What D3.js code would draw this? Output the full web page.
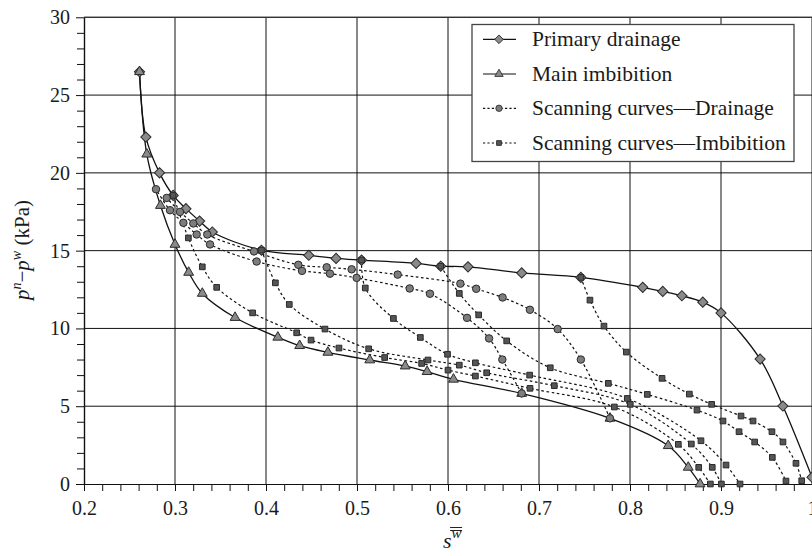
<!DOCTYPE html>
<html><head><meta charset="utf-8">
<script src="https://cdn.jsdelivr.net/npm/d3@7"></script>
<style>
body{margin:0;background:#fff}
svg{display:block}
text{font-family:"Liberation Serif","DejaVu Serif",serif;fill:#1a1a1a}
</style>
</head><body>
<svg id="chart" width="812" height="556"></svg>
<script>
// ---------- data ----------
const xTicks = [0.2,0.3,0.4,0.5,0.6,0.7,0.8,0.9,1.0];
const xTickLabels = ["0.2","0.3","0.4","0.5","0.6","0.7","0.8","0.9","1"];
const yTicks = [0,5,10,15,20,25,30];
const seriesNames = ["Primary drainage","Main imbibition","Scanning curves\u2014Drainage","Scanning curves\u2014Imbibition"];

// Primary drainage
const pdX = [0.261,0.268,0.283,0.298,0.312,0.327,0.341,0.395,0.447,0.477,0.505,0.565,0.592,0.622,0.681,0.746,0.814,0.836,0.857,0.880,0.900,0.943,0.968,1.000];
const pdY = [26.5,22.3,20.0,18.55,17.7,16.9,16.2,15.03,14.7,14.5,14.39,14.18,14.0,13.96,13.57,13.28,12.64,12.38,12.1,11.69,11.0,8.03,5.01,0.43];
// Main imbibition
const miX = [0.261,0.269,0.284,0.300,0.315,0.330,0.366,0.413,0.437,0.468,0.514,0.553,0.577,0.606,0.681,0.778,0.842,0.864,0.877];
const miY = [26.5,21.2,17.9,15.4,13.6,12.25,10.7,9.43,8.89,8.46,7.97,7.58,7.22,6.73,5.82,4.22,2.46,1.07,0.0];
// Scanning curves - drainage
const d1X = [0.778,0.746,0.7205,0.690,0.660,0.631,0.6136,0.5447,0.4941,0.4667,0.4355,0.3868,0.3355,0.3201,0.3055,0.2909];
const d1Y = [4.22,8.0,9.96,11.2,11.99,12.55,12.88,13.46,13.8,13.93,14.09,14.95,16.04,16.75,17.49,18.39];
const d2X = [0.681,0.6597,0.6451,0.6209,0.5802,0.5579,0.4996,0.4703,0.4396,0.3897,0.3385,0.3238,0.3092,0.2945,0.2791];
const d2Y = [5.82,8.0,9.36,10.68,12.23,12.57,13.25,13.52,13.7,14.3,15.4,16.04,16.79,17.6,18.95];
// Scanning curves - imbibition
const i1X = [0.298,0.3147,0.330,0.3458,0.3853,0.4337,0.4495,0.4802,0.5304,0.571,0.600,0.6301,0.6901,0.7828,0.8531,0.8755,0.8883];
const i1Y = [18.55,15.82,13.96,12.64,11.0,9.72,9.25,8.74,8.13,7.75,7.32,6.94,6.15,4.95,2.55,1.07,0.0];
const i2X = [0.395,0.4103,0.4256,0.4648,0.5128,0.578,0.6124,0.6425,0.7168,0.8003,0.8674,0.8904,0.9004];
const i2Y = [15.03,12.93,11.54,9.96,8.69,7.97,7.64,7.15,6.32,5.12,2.57,1.07,0.0];
const i3X = [0.505,0.5091,0.540,0.5696,0.5995,0.6301,0.6897,0.797,0.878,0.9055,0.9209];
const i3Y = [14.39,12.6,10.64,9.42,8.34,7.79,7.0,5.5,2.78,1.22,0.0];
const i4X = [0.592,0.6124,0.6337,0.6645,0.7124,0.7762,0.819,0.8736,0.9022,0.9198,0.937,0.9564,0.9714];
const i4Y = [14.0,12.25,10.87,9.2,7.47,6.47,5.76,4.75,4.05,3.36,2.7,1.71,0.19];
const i5X = [0.746,0.756,0.7714,0.796,0.8352,0.8652,0.8897,0.922,0.9352,0.956,0.9681,0.9824,0.9887];
const i5Y = [13.28,11.82,10.15,8.48,6.79,5.78,5.12,4.37,4.05,3.36,2.7,1.33,0.21];

// ---------- chart ----------
const svg = d3.select("#chart");
const M = {left:84, right:812, top:17.3, bottom:484};
const x = d3.scaleLinear().domain([0.2,1.0]).range([M.left, M.right]);
const y = d3.scaleLinear().domain([0,30]).range([M.bottom, M.top]);

const zip = (xs, ys) => xs.map((v,i)=>[v, ys[i]]);

// grid
const grid = svg.append("g");
grid.selectAll("line.v").data(xTicks.slice(1)).join("line")
  .attr("x1", d=>x(d)).attr("x2", d=>x(d)).attr("y1", y(0)).attr("y2", y(30))
  .attr("stroke", "#111").attr("stroke-width", 1);
grid.selectAll("line.h").data(yTicks.slice(1)).join("line")
  .attr("x1", x(0.2)).attr("x2", x(1.0)).attr("y1", d=>y(d)).attr("y2", d=>y(d))
  .attr("stroke", "#111").attr("stroke-width", 1);

// axes
const yMinor = d3.range(0, 31, 1).filter(v => v % 5 !== 0);
const xMinor = d3.range(0, 41).map(i => 0.2 + i*0.02).filter((v,i) => i % 5 !== 0);

const yAxis = svg.append("g").attr("transform", `translate(${M.left},0)`)
  .call(d3.axisLeft(y).tickValues(yTicks).tickSize(8).tickSizeOuter(0).tickPadding(6));
svg.append("g").attr("transform", `translate(${M.left},0)`)
  .call(d3.axisLeft(y).tickValues(yMinor).tickSize(7).tickSizeOuter(0).tickFormat(""));
const xAxis = svg.append("g").attr("transform", `translate(0,${M.bottom})`)
  .call(d3.axisBottom(x).tickValues(xTicks).tickSize(7).tickSizeOuter(0).tickPadding(10)
    .tickFormat((d,i)=>xTickLabels[i]));
svg.append("g").attr("transform", `translate(0,${M.bottom})`)
  .call(d3.axisBottom(x).tickValues(xMinor).tickSize(7).tickSizeOuter(0).tickFormat(""));
svg.selectAll(".tick line").attr("stroke", "#111").attr("stroke-width", 1);
svg.selectAll(".domain").attr("stroke", "#111").attr("stroke-width", 1.2);
svg.selectAll(".tick text").attr("font-size", 20).attr("font-family", "Liberation Serif, serif").attr("fill", "#1a1a1a");
// top frame
svg.append("line").attr("x1", x(0.2)).attr("x2", x(1.0)).attr("y1", y(30)).attr("y2", y(30))
  .attr("stroke", "#333").attr("stroke-width", 1.2);

// lines
const lineGen = d3.line().x(d=>x(d[0])).y(d=>y(d[1])).curve(d3.curveCatmullRom.alpha(0.5));
const lines = svg.append("g").attr("fill", "none");
const scanD = [zip(d1X,d1Y), zip(d2X,d2Y)];
const scanI = [zip(i1X,i1Y), zip(i2X,i2Y), zip(i3X,i3Y), zip(i4X,i4Y), zip(i5X,i5Y)];
scanI.forEach(s => lines.append("path").attr("d", lineGen(s)).attr("stroke", "#111")
  .attr("stroke-width", 1.2).attr("stroke-dasharray", "2.6,2.6"));
scanD.forEach(s => lines.append("path").attr("d", lineGen(s)).attr("stroke", "#111")
  .attr("stroke-width", 1.2).attr("stroke-dasharray", "2.6,2.6"));
const pd = zip(pdX,pdY), mi = zip(miX,miY);
lines.append("path").attr("d", lineGen(mi)).attr("stroke", "#111").attr("stroke-width", 1.3);
lines.append("path").attr("d", lineGen(pd)).attr("stroke", "#111").attr("stroke-width", 1.3);

// markers
const sym = {
  diamond: d3.symbol().type(d3.symbolSquare).size(52)(),
  triangle: d3.symbol().type(d3.symbolTriangle).size(42)(),
  circle: d3.symbol().type(d3.symbolCircle).size(44)(),
  square: d3.symbol().type(d3.symbolSquare).size(32)()
};
const style = {
  diamond: {fill:"#8a8a8a", rot:45},
  triangle: {fill:"#8a8a8a", rot:0},
  circle: {fill:"#7d7d7d", rot:0},
  square: {fill:"#555555", rot:0}
};
function drawMarkers(pts, kind){
  svg.append("g").selectAll("path").data(pts).join("path")
    .attr("d", sym[kind])
    .attr("transform", d=>`translate(${x(d[0])},${y(d[1])}) rotate(${style[kind].rot})`)
    .attr("fill", style[kind].fill).attr("stroke", "#2a2a2a").attr("stroke-width", 1);
}
drawMarkers(pd, "diamond");
drawMarkers(mi, "triangle");
scanD.forEach(s => drawMarkers(s, "circle"));
scanI.forEach(s => drawMarkers(s, "square"));

// legend
const lg = svg.append("g");
lg.append("rect").attr("x", 472).attr("y", 24.5).attr("width", 322).attr("height", 137)
  .attr("fill", "#fff").attr("stroke", "#444").attr("stroke-width", 1.3);
const kinds = ["diamond","triangle","circle","square"];
const rowY = [39.3, 74, 108.3, 143];
seriesNames.forEach((name, i) => {
  const g = lg.append("g");
  g.append("line").attr("x1", 483).attr("x2", 516).attr("y1", rowY[i]).attr("y2", rowY[i])
    .attr("stroke", "#111").attr("stroke-width", 1.2)
    .attr("stroke-dasharray", i >= 2 ? "2.2,2.2" : null);
  g.append("path").attr("d", sym[kinds[i]])
    .attr("transform", `translate(499,${rowY[i]}) rotate(${style[kinds[i]].rot}) scale(0.85)`)
    .attr("fill", style[kinds[i]].fill).attr("stroke", "#2a2a2a").attr("stroke-width", 1);
  g.append("text").attr("x", 532).attr("y", rowY[i] + 7).attr("font-size", 21.5).text(name);
});

// axis titles
const yt = svg.append("text").attr("transform", "translate(29,250) rotate(-90)")
  .attr("text-anchor", "middle").attr("font-size", 21);
yt.append("tspan").attr("font-style", "italic").text("p");
yt.append("tspan").attr("font-style", "italic").attr("font-size", 14).attr("dy", -8).text("n");
yt.append("tspan").attr("dy", 8).text("\u2212");
yt.append("tspan").attr("font-style", "italic").text("p");
yt.append("tspan").attr("font-style", "italic").attr("font-size", 14).attr("dy", -8).text("w");
yt.append("tspan").attr("dy", 8).text(" (kPa)");

const xt = svg.append("text").attr("x", 443).attr("y", 548).attr("font-size", 22);
xt.append("tspan").attr("font-style", "italic").text("s");
const sup = xt.append("tspan").attr("font-style", "italic").attr("font-size", 15).attr("dy", -10).text("w");
// double overline over superscript
const bb = sup.node().getBBox ? null : null;
const xtb = xt.node().getBBox();
const ox1 = xtb.x + xtb.width - 11.5, ox2 = xtb.x + xtb.width + 0.5;
[527.5, 530.5].forEach(yy => svg.append("line").attr("x1", ox1).attr("x2", ox2)
  .attr("y1", yy).attr("y2", yy).attr("stroke", "#222").attr("stroke-width", 1));
</script>
</body></html>
